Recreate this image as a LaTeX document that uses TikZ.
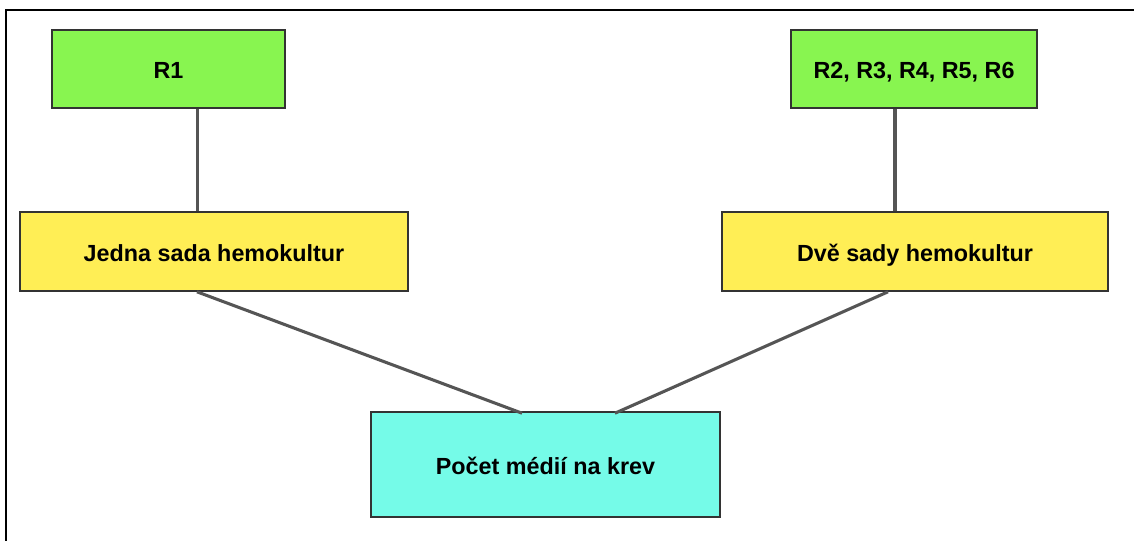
\documentclass[tikz,border=0pt]{standalone}
\usepackage{fontspec}
\setmainfont{Liberation Sans}
\usetikzlibrary{calc}
\definecolor{boxgreen}{HTML}{88F550}
\definecolor{boxyellow}{HTML}{FFEE55}
\definecolor{boxcyan}{HTML}{75FBE8}
\definecolor{linegray}{HTML}{555555}
\tikzset{
	box/.style={draw=black!80, line width=1.2pt, rectangle, inner sep=0pt,
		text height=14.5pt, text depth=0pt,
		font=\fontsize{17.5}{21}\selectfont\bfseries},
	link/.style={draw=linegray, line width=2.3pt}
}

\begin{document}
\begin{tikzpicture}[x=0.75pt, y=-0.75pt]
		%%%%% START %%%%%
		
		\clip (0, 0) rectangle (1134, 540);
		\useasboundingbox (0, 0) rectangle (1134, 540);
		\draw[line width=1.6pt] (6, 10) rectangle (1150, 560);
		
		\node[box, fill=boxgreen, minimum width=174.75pt, minimum height=58.5pt] (r1) at (168.5, 69) {R1};
		\node[box, fill=boxgreen, minimum width=184.5pt, minimum height=58.5pt] (rest) at (914, 69) {R2, R3, R4, R5, R6};
		
		\node[box, fill=boxyellow, minimum width=291pt, minimum height=59.25pt] (jedna) at (214, 251.5) {Jedna sada hemokultur};
		\node[box, fill=boxyellow, minimum width=289.5pt, minimum height=59.25pt] (dve) at (915, 251.5) {Dvě sady hemokultur};
		
		\node[box, fill=boxcyan, minimum width=261.75pt, minimum height=78.75pt] (pocet) at (545.5, 464.5) {Počet médií na krev};
		
		\draw[link] ([xshift=21.4pt]r1.south) -- ([xshift=21.4pt]r1.south |- jedna.north);
		\draw[link] ([xshift=-14.25pt]rest.south) -- ([xshift=-14.25pt]rest.south |- dve.north);
		
		\draw[link] ([xshift=-12.75pt]jedna.south) -- ([xshift=-17.6pt, yshift=-1.5pt]pocet.north);
		\draw[link] ([xshift=-20.25pt]dve.south) -- ([xshift=52.1pt, yshift=-1.5pt]pocet.north);
		
		%%%%% END %%%%%
	\end{tikzpicture}
\end{document}
